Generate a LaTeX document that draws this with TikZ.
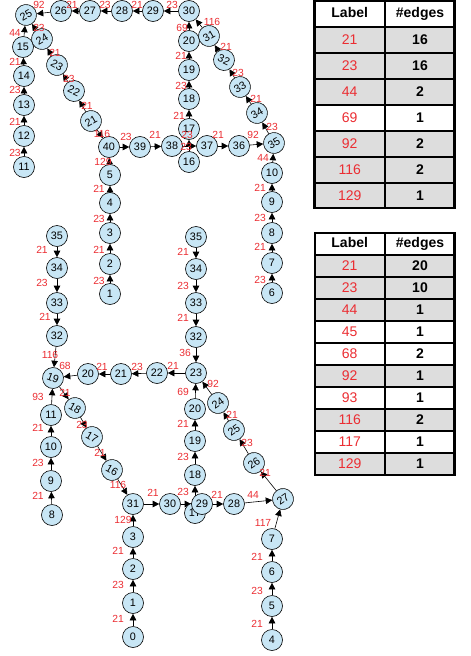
\documentclass[tikz,border=0pt]{standalone}
\usepackage{fontspec}
\setmainfont{Liberation Sans}
\usetikzlibrary{arrows.meta,backgrounds}
\definecolor{nodefill}{RGB}{200,230,245}
\definecolor{labred}{RGB}{235,45,50}
\definecolor{rowgray}{RGB}{221,221,221}
\begin{document}
\begin{tikzpicture}[x=1pt,y=-1pt]
\tikzset{
 vtx/.style={circle, draw=black, line width=0.6pt, fill=nodefill, minimum size=21pt, inner sep=0pt, font=\fontsize{10.8}{12}\selectfont},
 elab/.style={text=labred, font=\fontsize{10.3}{11}\selectfont, inner sep=0pt},
 edge/.style={draw=black, line width=0.6pt, -{Triangle[length=6.5pt,width=6.5pt]}},
 thd/.style={font=\fontsize{14}{16}\selectfont\bfseries, text height=10pt, text depth=3pt, inner sep=0pt},
 tred/.style={text=labred, font=\fontsize{14}{16}\selectfont, inner sep=0pt},
 tnum/.style={font=\fontsize{14}{16}\selectfont\bfseries, inner sep=0pt},
 grayrow/.style={fill=rowgray},
 inner/.style={line width=1.3pt},
 outer/.style={line width=2.5pt},
}
\useasboundingbox (0,0) rectangle (471,656);

% ---------------- top graph vertices
\node[vtx,rotate=30] (t25) at (26,15) {25};
\node[vtx] (t26) at (61,11) {26};
\node[vtx] (t27) at (90,11) {27};
\node[vtx] (t28) at (122,11) {28};
\node[vtx] (t29) at (153,11) {29};
\node[vtx] (t30) at (189,11) {30};
\node[vtx] (t20) at (189,41) {20};
\node[vtx] (t19) at (189,70) {19};
\node[vtx] (t18) at (189,99) {18};
\node[vtx] (t17) at (189,129) {17};
\node[vtx] (t38) at (172,146) {38};
\node[vtx] (t16) at (189,162) {16};
\node[vtx] (t37) at (207,146) {37};
\node[vtx] (t36) at (239,146) {36};
\node[vtx,rotate=30] (t35) at (274,143) {35};
\node[vtx,rotate=30] (t31) at (209,36) {31};
\node[vtx,rotate=-25] (t32) at (224,60) {32};
\node[vtx,rotate=30] (t33) at (240,87) {33};
\node[vtx,rotate=30] (t34) at (257,113) {34};
\node[vtx] (t10) at (272,173) {10};
\node[vtx] (t9) at (272,202) {9};
\node[vtx] (t8) at (272,233) {8};
\node[vtx] (t7) at (272,263) {7};
\node[vtx] (t6) at (272,293) {6};
\node[vtx] (t15) at (23,47) {15};
\node[vtx] (t14) at (24,76) {14};
\node[vtx] (t13) at (24,105) {13};
\node[vtx] (t12) at (24,136) {12};
\node[vtx] (t11) at (24,167) {11};
\node[vtx,rotate=30] (t24) at (42,39) {24};
\node[vtx,rotate=-30] (t23) at (57,65) {23};
\node[vtx,rotate=-25] (t22) at (74,91) {22};
\node[vtx,rotate=30] (t21) at (91,121) {21};
\node[vtx] (t40) at (109,147) {40};
\node[vtx] (t39) at (140,147) {39};
\node[vtx] (t5) at (110,175) {5};
\node[vtx] (t4) at (110,203) {4};
\node[vtx] (t3) at (110,233) {3};
\node[vtx] (t2) at (110,264) {2};
\node[vtx] (t1) at (110,294) {1};

% ---------------- bottom graph vertices
\node[vtx] (bL35) at (57,236) {35};
\node[vtx] (bL34) at (57,268) {34};
\node[vtx] (bL33) at (57,303) {33};
\node[vtx] (bL32) at (57,336) {32};
\node[vtx] (bR35) at (196,237) {35};
\node[vtx] (bR34) at (196,269) {34};
\node[vtx] (bR33) at (196,303) {33};
\node[vtx] (bR32) at (196,337) {32};
\node[vtx] (b23) at (196,373) {23};
\node[vtx] (b22) at (157,373) {22};
\node[vtx] (b21) at (121,374) {21};
\node[vtx] (b20L) at (88,374) {20};
\node[vtx,rotate=-20] (b19L) at (53,378) {19};
\node[vtx] (b11) at (51,415) {11};
\node[vtx] (b10) at (51,447) {10};
\node[vtx] (b9) at (51,481) {9};
\node[vtx] (b8) at (52,515) {8};
\node[vtx,rotate=-30] (b18L) at (75,408) {18};
\node[vtx,rotate=-30] (b17L) at (92,437) {17};
\node[vtx,rotate=-30] (b16L) at (112,470) {16};
\node[vtx] (b31) at (133,504) {31};
\node[vtx] (b30) at (170,504) {30};
\node[vtx] (b17R) at (195,513) {17};
\node[vtx] (b29) at (202,504) {29};
\node[vtx] (b28) at (234,504) {28};
\node[vtx,rotate=35] (b27) at (283,499) {27};
\node[vtx,rotate=35] (b26) at (254,463) {26};
\node[vtx,rotate=35] (b25) at (234,430) {25};
\node[vtx,rotate=35] (b24) at (218,403) {24};
\node[vtx] (b20R) at (195,409) {20};
\node[vtx] (b19R) at (195,441) {19};
\node[vtx] (b18R) at (195,475) {18};
\node[vtx] (b3) at (133,537) {3};
\node[vtx] (b2) at (133,569) {2};
\node[vtx] (b1) at (133,603) {1};
\node[vtx] (b0) at (133,637) {0};
\node[vtx] (b7) at (272,539) {7};
\node[vtx] (b6) at (272,572) {6};
\node[vtx] (b5) at (272,606) {5};
\node[vtx] (b4) at (272,640) {4};

% ---------------- connectors
\begin{scope}[on background layer]
\foreach \a/\b in {t26/t25,t27/t26,t28/t27,t29/t28,t30/t29,t20/t30,t31/t30,t32/t31,t33/t32,t34/t33,t35/t34,t19/t20,t18/t19,t17/t18,t39/t38,t38/t37,t16/t17,t37/t36,t36/t35,t10/t35,t9/t10,t8/t9,t7/t8,t6/t7,t15/t25,t24/t25,t14/t15,t13/t14,t12/t13,t11/t12,t23/t24,t22/t23,t21/t22,t21/t40,t40/t39,t5/t40,t4/t5,t3/t4,t2/t3,t1/t2}
  {\draw[edge] (\a) -- (\b);}
\foreach \a/\b in {bL35/bL34,bL34/bL33,bL33/bL32,bL32/b19L,bR35/bR34,bR34/bR33,bR33/bR32,bR32/b23,b23/b22,b22/b21,b21/b20L,b20L/b19L,b19L/b18L,b18L/b17L,b17L/b16L,b16L/b31,b11/b19L,b10/b11,b9/b10,b8/b9,b0/b1,b1/b2,b2/b3,b3/b31,b31/b30,b30/b29,b17R/b18R,b29/b28,b28/b27,b7/b27,b6/b7,b5/b6,b4/b5,b27/b26,b26/b25,b25/b24,b24/b23,b18R/b19R,b19R/b20R,b20R/b23}
  {\draw[edge] (\a) -- (\b);}
\end{scope}

% ---------------- edge labels (top)
\foreach \n/\x/\y/\t in {a1/39/5/92,a2/72/5/21,a3/105/5/23,a4/137/5/21,a5/172/5/23,a6/182/28/69,a7/212/22/116,a8/226/47/21,a9/238/73/23,a10/256/99/21,a11/272/127/23,a12/181/56/21,a13/181/86/23,a14/179/116/21,a15/155/135/21,a16/187/135/23,a17/186/147/23,a18/218/135/21,a19/253/135/92,a20/263/158/44,a21/260/188/21,a22/260/218/23,a23/260/247/21,a24/260/280/23,a25/15/33/44,a26/39/28/23,a27/15/62/21,a28/15/90/23,a29/15/122/21,a30/15/153/23,a31/55/53/21,a32/69/79/23,a33/87/106/21,a34/102/134/116,a35/126/137/23,a36/103/162/129,a37/99/189/21,a38/99/219/23,a39/99/250/21,a40/99/281/23}
  {\node[elab] (\n) at (\x,\y) {\t};}
% ---------------- edge labels (bottom)
\foreach \n/\x/\y/\t in {c1/42/250/21,c2/42/283/23,c3/45/317/21,c4/50/355/116,c5/183/252/21,c6/183/286/23,c7/183/318/21,c8/185/353/36,c9/173/366/21,c10/137/367/23,c11/102/367/21,c12/65/366/68,c13/65/393/21,c14/82/425/23,c15/100/453/21,c16/118/485/116,c17/38/397/93,c18/38/428/21,c19/38/463/23,c20/38/496/21,c21/118/619/21,c22/118/585/23,c23/118/551/21,c24/123/520/129,c25/153/493/21,c26/183/492/23,c27/217/495/21,c28/253/495/44,c29/263/523/117,c30/257/557/21,c31/257/591/23,c32/257/624/21,c33/265/473/21,c34/247/443/23,c35/232/415/21,c36/213/384/92,c37/183/457/23,c38/183/424/21,c39/183/392/69}
  {\node[elab] (\n) at (\x,\y) {\t};}

% ---------------- table 1
\fill[white] (314.5,1) rectangle (454.7,27);
\foreach \i/\g in {0/1,1/1,2/1,3/0,4/1,5/1,6/1}
  {\ifnum\g=1 \fill[grayrow] (314.5,{27+26*\i}) rectangle (454.7,{53+26*\i}); \fi}
\foreach \i in {0,...,6} {\draw[inner] (314.5,{27+26*\i}) -- (454.7,{27+26*\i});}
\draw[inner] (385,1) -- (385,208);
\draw[outer] (314.5,1) rectangle (454.7,208);
\node[thd] (h1a) at (349.7,14) {Label};
\node[thd] (h1b) at (420,14) {\#edges};
\foreach \i/\l/\v in {0/21/16,1/23/16,2/44/2,3/69/1,4/92/2,5/116/2,6/129/1}{
  \node[tred] (u\i) at (349.7,{40+26*\i}) {\l};
  \node[tnum] (v\i) at (420,{40+26*\i}) {\v};
}

% ---------------- table 2
\foreach \i/\g in {0/1,1/1,2/1,3/0,4/0,5/1,6/0,7/1,8/0,9/1}
  {\ifnum\g=1 \fill[grayrow] (315,{255+22*\i}) rectangle (454.7,{277+22*\i}); \fi}
\foreach \i in {0,...,9} {\draw[inner] (315,{255+22*\i}) -- (454.7,{255+22*\i});}
\draw[inner] (385,233) -- (385,475);
\draw[outer] (315,233) rectangle (454.7,475);
\node[thd] (h2a) at (349.7,244) {Label};
\node[thd] (h2b) at (420,244) {\#edges};
\foreach \i/\l/\v in {0/21/20,1/23/10,2/44/1,3/45/1,4/68/2,5/92/1,6/93/1,7/116/2,8/117/1,9/129/1}{
  \node[tred] (p\i) at (349.7,{266+22*\i}) {\l};
  \node[tnum] (q\i) at (420,{266+22*\i}) {\v};
}
\end{tikzpicture}
\end{document}
